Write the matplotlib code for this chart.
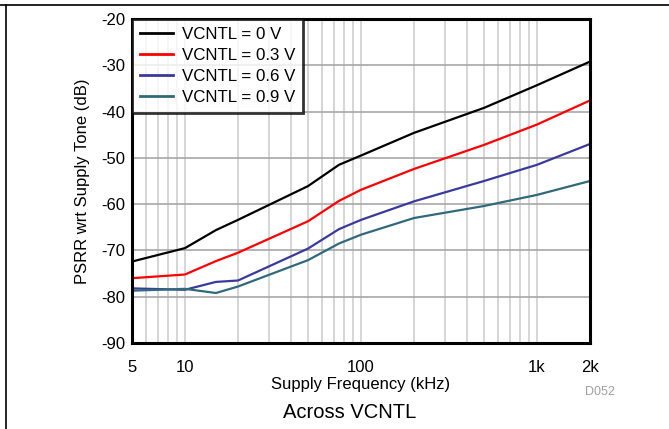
import matplotlib
matplotlib.use("Agg")
import matplotlib.pyplot as plt
from matplotlib.lines import Line2D
from matplotlib.ticker import NullFormatter, LogLocator

plt.rcParams['font.family'] = ['Liberation Sans', 'DejaVu Sans']
plt.rcParams['axes.unicode_minus'] = False

freq = [5, 10, 15, 20, 50, 75, 100, 200, 500, 1000, 2000]
v0 = [-72.4, -69.5, -65.6, -63.4, -56.1, -51.5, -49.5, -44.6, -39.2, -34.3, -29.2]
v03 = [-76.0, -75.2, -72.3, -70.5, -63.7, -59.3, -56.9, -52.4, -47.2, -42.8, -37.6]
v06 = [-78.2, -78.5, -76.8, -76.5, -69.6, -65.4, -63.4, -59.4, -55.0, -51.5, -47.0]
v09 = [-78.7, -78.3, -79.2, -77.8, -72.1, -68.5, -66.6, -63.0, -60.4, -58.0, -55.0]
labels = ['VCNTL = 0 V', 'VCNTL = 0.3 V', 'VCNTL = 0.6 V', 'VCNTL = 0.9 V']
colors = ['#000000', '#ff0000', '#3a3a9e', '#2f6a7c']
xtick_vals = [5, 10, 100, 1000, 2000]
xtick_labels = ['5', '10', '100', '1k', '2k']
yticks = [-90, -80, -70, -60, -50, -40, -30, -20]

fig = plt.figure(figsize=(6.69, 4.29), dpi=100)
ax = fig.add_axes([132/669, 1-343/429, (590-132)/669, (343-19)/429])

for ys, lab, c in zip([v0, v03, v06, v09], labels, colors):
    ax.plot(freq, ys, color=c, lw=1.6, label=lab)

ax.set_xscale('log')
ax.set_xlim(5, 2000)
ax.set_ylim(-90, -20)
ax.set_xticks(xtick_vals)
ax.set_xticklabels(xtick_labels)
ax.xaxis.set_minor_locator(LogLocator(base=10, subs=range(1, 10), numticks=20))
ax.xaxis.set_minor_formatter(NullFormatter())
ax.set_yticks(yticks)
ax.tick_params(axis='both', which='both', length=0, labelsize=12)
ax.tick_params(axis='x', pad=12)
ax.tick_params(axis='y', pad=5)

ax.grid(True, axis='x', which='both', color='#d0d0d0', lw=1.2)
ax.grid(True, axis='y', which='major', color='#a8a8a8', lw=1.2)
ax.set_axisbelow(True)
for s in ax.spines.values():
    s.set_linewidth(2.2)
    s.set_color('black')

ax.set_xlabel('Supply Frequency (kHz)', fontsize=12, labelpad=2)
ax.set_ylabel('PSRR wrt Supply Tone (dB)', fontsize=12, labelpad=8)

leg = ax.legend(loc='upper left', bbox_to_anchor=(0, 1), borderaxespad=0,
                fontsize=12.2, frameon=True, fancybox=False, handlelength=1.95,
                handletextpad=0.55, labelspacing=0.36, borderpad=0.45)
leg.get_frame().set_edgecolor('black')
leg.get_frame().set_linewidth(2.0)
for l in leg.get_lines():
    l.set_linewidth(2.0)

fig.text(600/669, 1-392/429, 'D052', fontsize=9, color='#a0a0a0', ha='center', va='center')
fig.text(350/669, 1-412/429, 'Across VCNTL', fontsize=14.5, color='black', ha='center', va='center')

fig.add_artist(Line2D([0, 1], [1-4.5/429, 1-4.5/429], color='black', lw=1.2, transform=fig.transFigure))
fig.add_artist(Line2D([5.5/669, 5.5/669], [0, 1-4.5/429], color='black', lw=1.2, transform=fig.transFigure))

fig.savefig('out.png', dpi=100)
